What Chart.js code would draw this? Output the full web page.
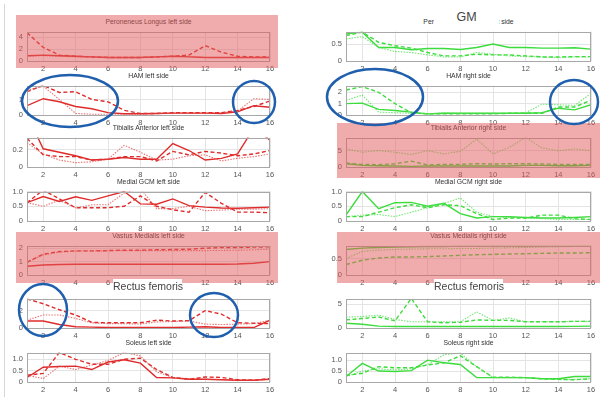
<!DOCTYPE html>
<html>
<head>
<meta charset="utf-8">
<script src="https://cdn.jsdelivr.net/npm/chart.js@4.4.1/dist/chart.umd.min.js"></script>
<style>
  body { margin: 0; background: #fff; font-family: "Liberation Sans", Arial, sans-serif; }
  #page { position: relative; width: 610px; height: 405px; overflow: hidden; }
  .pane { position: absolute; }
  .title { position: absolute; font-size: 6.8px; line-height: 9px; color: #333; text-align: center; white-space: nowrap; }
  .pink { position: absolute; background: rgba(225, 90, 90, 0.5); pointer-events: none; }
  .label { position: absolute; background: #fff; color: #444; text-align: center; white-space: nowrap; }
  .rule { position: absolute; left: 4px; top: 4px; width: 1px; height: 393px; background: #d6d6d6; }
  svg { position: absolute; left: 0; top: 0; pointer-events: none; }
</style>
</head>
<body>
<div id="page">
  <div class="rule"></div>
</div>
<script>
// x positions and tick labels
const steps = [1, 2, 3, 4, 5, 6, 7, 8, 9, 10, 11, 12, 13, 14, 15, 16];
const xTicks = [2, 4, 6, 8, 10, 12, 14, 16];

// left side
const perLeftSolid  = [0.9, 1.0, 0.9, 0.8, 0.7, 0.6, 0.6, 0.6, 0.7, 0.8, 0.7, 0.6, 0.6, 0.6, 0.6, 0.6];
const perLeftDashed = [4.8, 2.3, 1.0, 0.8, 0.7, 0.6, 0.6, 0.6, 0.7, 0.8, 1.0, 2.6, 1.5, 0.8, 0.7, 0.7];
const perLeftDotted = [0.8, 0.9, 0.8, 0.7, 0.7, 0.6, 0.6, 0.6, 0.7, 0.8, 0.8, 0.6, 0.6, 0.6, 0.6, 0.6];

const hamLeftSolid  = [0.6, 1.05, 0.85, 0.55, 0.4, 0.15, 0.08, 0.08, 0.1, 0.12, 0.12, 0.12, 0.1, 0.2, 0.6, 0.5];
const hamLeftDashed = [1.5, 1.9, 1.45, 1.5, 1.0, 0.85, 0.3, 0.1, 0.1, 0.15, 0.15, 0.15, 0.15, 0.3, 0.55, 0.9];
const hamLeftDotted = [1.6, 1.85, 1.0, 0.1, 0.05, 0.05, 0.05, 0.05, 0.1, 0.12, 0.1, 0.1, 0.15, 0.25, 1.05, 1.0];

const tibLeftSolid  = [0.6, 0.21, 0.17, 0.13, 0.08, 0.09, 0.11, 0.09, 0.09, 0.27, 0.19, 0.08, 0.1, 0.15, 0.45, 0.31];
const tibLeftDashed = [0.33, 0.14, 0.12, 0.12, 0.08, 0.09, 0.12, 0.12, 0.07, 0.18, 0.14, 0.18, 0.16, 0.13, 0.15, 0.19];
const tibLeftDotted = [0.28, 0.15, 0.08, 0.05, 0.06, 0.09, 0.25, 0.17, 0.08, 0.09, 0.13, 0.14, 0.07, 0.1, 0.12, 0.15];

const gcmLeftSolid  = [0.62, 0.83, 0.66, 0.82, 0.7, 0.85, 1.0, 0.58, 0.57, 0.75, 0.52, 0.47, 0.44, 0.43, 0.45, 0.47];
const gcmLeftDashed = [0.62, 1.05, 0.75, 0.45, 0.45, 0.45, 0.5, 0.85, 0.5, 0.38, 0.3, 0.97, 0.6, 0.3, 0.3, 0.28];
const gcmLeftDotted = [0.62, 0.5, 0.7, 0.45, 0.55, 0.55, 0.95, 1.1, 0.42, 0.42, 0.5, 0.35, 0.37, 0.4, 0.4, 0.42];

const vasLeftSolid  = [0.65, 0.75, 0.78, 0.8, 0.8, 0.8, 0.8, 0.8, 0.8, 0.8, 0.8, 0.8, 0.8, 0.82, 0.88, 1.0];
const vasLeftDashed = [0.95, 1.55, 1.75, 1.8, 1.8, 1.82, 1.85, 1.85, 1.88, 1.9, 1.92, 2.0, 2.05, 2.05, 2.08, 2.1];
const vasLeftDotted = [0.95, 1.5, 1.7, 1.78, 1.8, 1.8, 1.82, 1.82, 1.82, 1.82, 1.82, 1.82, 1.83, 1.85, 1.88, 1.92];

const recLeftSolid  = [0.8, 0.8, 0.4, 0.15, 0.1, 0.05, 0.05, 0.05, 0.05, 0.05, 0.1, 0.15, 0.05, 0.05, 0.05, 0.9];
const recLeftDashed = [3.35, 2.8, 2.1, 1.5, 0.65, 0.6, 0.6, 0.6, 0.9, 0.8, 0.85, 2.0, 1.6, 0.6, 0.55, 0.5];
const recLeftDotted = [0.9, 1.5, 1.5, 1.1, 0.6, 0.5, 0.5, 0.45, 0.7, 0.75, 0.8, 0.45, 0.4, 0.45, 0.5, 0.9];

const solLeftSolid  = [0.2, 0.65, 0.68, 0.7, 0.55, 0.88, 0.98, 0.83, 0.2, 0.18, 0.12, 0.12, 0.1, 0.08, 0.08, 0.12];
const solLeftDashed = [0.3, 0.38, 1.3, 1.0, 0.78, 0.78, 1.0, 1.05, 0.55, 0.2, 0.12, 0.22, 0.2, 0.1, 0.08, 0.15];
const solLeftDotted = [0.3, 0.15, 0.7, 0.55, 0.75, 0.95, 1.3, 1.15, 0.45, 0.2, 0.15, 0.12, 0.1, 0.08, 0.08, 0.12];

// right side
const perRightSolid  = [0.8, 0.85, 0.4, 0.4, 0.33, 0.37, 0.37, 0.34, 0.4, 0.5, 0.4, 0.4, 0.38, 0.38, 0.39, 0.35];
const perRightDashed = [0.75, 0.85, 0.55, 0.45, 0.38, 0.25, 0.15, 0.15, 0.2, 0.18, 0.18, 0.15, 0.12, 0.12, 0.13, 0.13];
const perRightDotted = [0.65, 0.72, 0.4, 0.28, 0.25, 0.18, 0.12, 0.12, 0.25, 0.2, 0.15, 0.13, 0.12, 0.1, 0.12, 0.12];

const hamRightSolid  = [1.0, 1.05, 0.5, 0.4, 0.25, 0.1, 0.15, 0.15, 0.15, 0.15, 0.15, 0.15, 0.2, 0.6, 0.45, 0.9];
const hamRightDashed = [2.2, 2.5, 2.0, 1.0, 0.2, 0.1, 0.1, 0.1, 0.1, 0.1, 0.15, 0.15, 0.15, 0.7, 0.7, 1.3];
const hamRightDotted = [1.3, 1.75, 0.25, 0.2, 0.15, 0.1, 0.2, 0.15, 0.15, 0.15, 0.15, 0.2, 0.95, 0.9, 0.85, 1.9];

const tibRightSolid  = [1.0, 0.5, 0.4, 0.3, 0.2, 0.3, 0.3, 0.3, 0.3, 0.3, 0.3, 0.5, 0.5, 0.4, 0.4, 0.5];
const tibRightDashed = [1.2, 0.8, 0.7, 1.0, 1.8, 0.6, 0.8, 0.8, 1.0, 0.9, 1.0, 1.0, 0.9, 0.8, 0.8, 0.8];
const tibRightDotted = [5.5, 4.5, 5.0, 4.5, 3.8, 5.0, 4.0, 4.8, 8.5, 4.0, 6.0, 9.0, 5.8, 5.0, 5.5, 5.0];

const gcmRightSolid  = [0.2, 1.0, 0.42, 0.62, 0.63, 0.5, 0.6, 0.25, 0.1, 0.15, 0.15, 0.12, 0.1, 0.1, 0.12, 0.15];
const gcmRightDashed = [0.15, 0.15, 0.3, 0.45, 0.55, 0.45, 0.55, 0.52, 0.25, 0.05, 0.1, 0.1, 0.2, 0.2, 0.08, 0.05];
const gcmRightDotted = [0.15, 0.2, 0.22, 0.15, 0.3, 0.45, 0.6, 0.78, 0.3, 0.15, 0.12, 0.1, 0.08, 0.05, 0.05, 0.05];

const vasRightSolid  = [0.78, 0.82, 0.84, 0.85, 0.86, 0.87, 0.87, 0.88, 0.88, 0.88, 0.88, 0.88, 0.88, 0.88, 0.88, 0.88];
const vasRightDashed = [0.32, 0.45, 0.52, 0.55, 0.55, 0.56, 0.58, 0.6, 0.62, 0.63, 0.64, 0.65, 0.66, 0.67, 0.67, 0.68];
const vasRightDotted = [0.5, 0.72, 0.76, 0.78, 0.79, 0.8, 0.8, 0.81, 0.81, 0.82, 0.83, 0.84, 0.85, 0.86, 0.87, 0.88];

const recRightSolid  = [1.0, 0.8, 0.4, 0.3, 0.3, 0.3, 0.3, 0.3, 0.3, 0.3, 0.3, 0.3, 0.3, 0.3, 0.35, 0.4];
const recRightDashed = [1.7, 2.0, 2.3, 1.5, 6.2, 1.3, 1.1, 1.2, 1.7, 1.6, 1.6, 1.3, 1.3, 1.3, 1.4, 1.4];
const recRightDotted = [2.3, 2.4, 2.7, 1.8, 1.3, 1.3, 1.3, 1.3, 3.4, 1.6, 2.1, 1.3, 1.3, 1.3, 1.4, 1.4];

const solRightSolid  = [0.25, 0.85, 0.5, 0.48, 0.52, 1.0, 0.88, 0.8, 0.2, 0.2, 0.2, 0.2, 0.15, 0.15, 0.25, 0.25];
const solRightDashed = [0.3, 0.4, 0.7, 0.65, 0.65, 0.78, 0.88, 1.2, 0.7, 0.22, 0.22, 0.2, 0.15, 0.12, 0.1, 0.15];
const solRightDotted = [0.25, 0.5, 0.6, 0.55, 0.6, 0.8, 1.25, 1.32, 0.7, 0.2, 0.2, 0.2, 0.15, 0.12, 0.12, 0.15];

// y tick labels
const yTicksPerLeft = [0, 2, 4];
const yTicksHamLeft = [0, 1];
const yTicksTibLeft = [0, 0.2];
const yTicksGcm = [0, 0.5, 1];
const yTicksVasLeft = [0, 1, 2];
const yTicksRecLeft = [0, 2];
const yTicksSol = [0, 0.5, 1];
const yTicksPerRight = [0, 0.5];
const yTicksHamRight = [0, 1, 2];
const yTicksTibRight = [0, 5];
const yTicksVasRight = [0, 0.5];
const yTicksRecRight = [0, 5];

const page = document.getElementById('page')
const red = { solid: '#e02b2b', dotted: 'rgba(228,70,70,0.75)' }
const green = { solid: '#3bdc3b', dotted: 'rgba(80,225,80,0.8)' }

const cols = [{ left: 27, width: 243 }, { left: 346, width: 245 }]
const rowTops = [27, 81, 133, 187, 241, 294, 348]
const plotH = 34

const boxPlugin = {
    id: 'box',
    afterDraw(chart) {
        const a = chart.chartArea
        const c = chart.ctx
        c.save()
        c.strokeStyle = '#a8a8a8'
        c.lineWidth = 1
        c.strokeRect(Math.round(a.left) + 0.5, Math.round(a.top) + 0.5, Math.round(a.right - a.left) - 1, Math.round(a.bottom - a.top) - 1)
        c.restore()
    }
}

function panel(col, row, title, solid, dashed, dotted, yMax, yTicks, colors) {
    const c = cols[col]
    const top = rowTops[row]
    const padL = 24, padT = 4, padR = 8, padB = 14

    if (title) {
        const t = document.createElement('div')
        t.className = 'title'
        t.style.left = c.left + 'px'
        t.style.width = c.width + 'px'
        t.style.top = (top - 10) + 'px'
        t.textContent = title
        page.appendChild(t)
    }

    const box = document.createElement('div')
    box.className = 'pane'
    box.style.left = (c.left - padL) + 'px'
    box.style.top = (top - padT) + 'px'
    box.style.width = (c.width + padL + padR) + 'px'
    box.style.height = (plotH + padT + padB) + 'px'
    const canvas = document.createElement('canvas')
    box.appendChild(canvas)
    page.appendChild(box)

    const pts = arr => steps.map((x, i) => ({ x: x, y: arr[i] }))

    new Chart(canvas, {
        type: 'line',
        data: {
            datasets: [
                { data: pts(dotted), borderColor: colors.dotted, borderWidth: 1.1, borderDash: [1.5, 1.3] },
                { data: pts(dashed), borderColor: colors.solid, borderWidth: 1.4, borderDash: [4, 2.5] },
                { data: pts(solid), borderColor: colors.solid, borderWidth: 1.4 }
            ]
        },
        options: {
            responsive: true,
            maintainAspectRatio: false,
            animation: false,
            layout: { padding: { top: padT, right: padR, left: 0, bottom: 0 } },
            elements: { point: { radius: 0 }, line: { tension: 0 } },
            scales: {
                x: {
                    type: 'linear',
                    min: 1,
                    max: 16,
                    afterBuildTicks: s => { s.ticks = xTicks.map(v => ({ value: v })) },
                    afterFit: s => { s.height = padB },
                    grid: { color: '#e4e4e4', drawTicks: false },
                    border: { display: false },
                    ticks: { font: { size: 7.5, family: 'Liberation Sans' }, color: '#555', padding: 3, maxRotation: 0 }
                },
                y: {
                    min: 0,
                    max: yMax,
                    afterBuildTicks: s => { s.ticks = yTicks.map(v => ({ value: v })) },
                    afterFit: s => { s.width = padL },
                    grid: { color: '#e4e4e4', drawTicks: false },
                    border: { display: false },
                    ticks: { font: { size: 7.5, family: 'Liberation Sans' }, color: '#555', padding: 4 }
                }
            },
            plugins: { legend: { display: false }, tooltip: { enabled: false } }
        },
        plugins: [boxPlugin]
    })
}

panel(0, 0, 'Peroneneus Longus left side', perLeftSolid, perLeftDashed, perLeftDotted, 5, yTicksPerLeft, red)
panel(0, 1, 'HAM left side', hamLeftSolid, hamLeftDashed, hamLeftDotted, 1.9, yTicksHamLeft, red)
panel(0, 2, 'Tibialis Anterior left side', tibLeftSolid, tibLeftDashed, tibLeftDotted, 0.34, yTicksTibLeft, red)
panel(0, 3, 'Medial GCM left side', gcmLeftSolid, gcmLeftDashed, gcmLeftDotted, 1, yTicksGcm, red)
panel(0, 4, 'Vastus Medialis left side', vasLeftSolid, vasLeftDashed, vasLeftDotted, 2.2, yTicksVasLeft, red)
panel(0, 5, '', recLeftSolid, recLeftDashed, recLeftDotted, 3.4, yTicksRecLeft, red)
panel(0, 6, 'Soleus left side', solLeftSolid, solLeftDashed, solLeftDotted, 1.3, yTicksSol, red)

panel(1, 0, 'Peroneneus Longus right side', perRightSolid, perRightDashed, perRightDotted, 0.87, yTicksPerRight, green)
panel(1, 1, 'HAM right side', hamRightSolid, hamRightDashed, hamRightDotted, 2.6, yTicksHamRight, green)
panel(1, 2, 'Tibialis Anterior right side', tibRightSolid, tibRightDashed, tibRightDotted, 9, yTicksTibRight, green)
panel(1, 3, 'Medial GCM right side', gcmRightSolid, gcmRightDashed, gcmRightDotted, 1, yTicksGcm, green)
panel(1, 4, 'Vastus Medialis right side', vasRightSolid, vasRightDashed, vasRightDotted, 0.9, yTicksVasRight, green)
panel(1, 5, '', recRightSolid, recRightDashed, recRightDotted, 6.2, yTicksRecRight, green)
panel(1, 6, 'Soleus right side', solRightSolid, solRightDashed, solRightDotted, 1.35, yTicksSol, green)

// pink highlight boxes
function pink(l, t, w, h) {
    const d = document.createElement('div')
    d.className = 'pink'
    d.style.cssText = `left:${l}px;top:${t}px;width:${w}px;height:${h}px`
    page.appendChild(d)
}
pink(16, 15, 262, 53)
pink(337, 123, 263, 55)
pink(16, 232, 262, 51)
pink(337, 232, 263, 51)

// white annotation labels
function label(text, l, t, w, h, size) {
    const d = document.createElement('div')
    d.className = 'label'
    d.style.cssText = `left:${l}px;top:${t}px;width:${w}px;height:${h}px;line-height:${h}px;font-size:${size}px`
    d.textContent = text
    page.appendChild(d)
}
label('GM', 434, 9, 65, 17, 12.5)
label('Rectus femoris', 113, 279, 69, 15, 10.5)
label('Rectus femoris', 434, 279, 69, 15, 10.5)

// blue ellipses
const svgNS = 'http://www.w3.org/2000/svg'
const svg = document.createElementNS(svgNS, 'svg')
svg.setAttribute('width', 610)
svg.setAttribute('height', 405)
;[[70, 101, 48, 26], [254, 102, 21, 21], [375, 97, 48, 28], [574, 102, 24, 22], [43, 310, 24, 26], [214, 315, 24, 22]].forEach(e => {
    const el = document.createElementNS(svgNS, 'ellipse')
    el.setAttribute('cx', e[0])
    el.setAttribute('cy', e[1])
    el.setAttribute('rx', e[2])
    el.setAttribute('ry', e[3])
    el.setAttribute('fill', 'none')
    el.setAttribute('stroke', '#1f5fae')
    el.setAttribute('stroke-width', 2.5)
    svg.appendChild(el)
})
page.appendChild(svg)
</script>
</body>
</html>
